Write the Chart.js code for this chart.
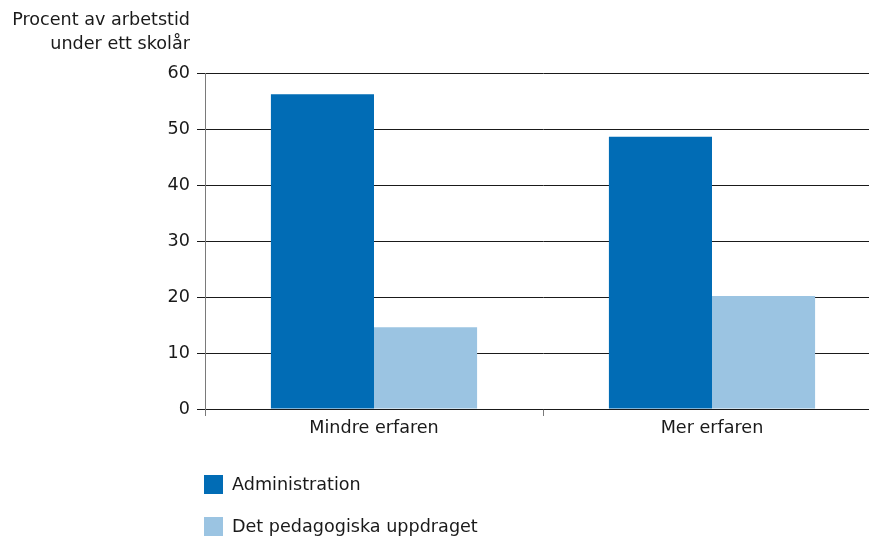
<!DOCTYPE html>
<html>
<head>
<meta charset="utf-8">
<script src="https://cdn.jsdelivr.net/npm/chart.js@4/dist/chart.umd.min.js"></script>
<style>
  html, body { margin: 0; padding: 0; overflow: hidden; background: #fff; }
  #wrap { position: relative; width: 884px; height: 541px; }
</style>
</head>
<body>
<div id="wrap"><canvas id="chart" width="884" height="541"></canvas></div>
<script>
const categories = ['Mindre erfaren', 'Mer erfaren'];
const administration = [56.2, 48.6];
const pedagogiska = [14.6, 20.2];
const seriesNames = ['Administration', 'Det pedagogiska uppdraget'];
const yTicks = [0, 10, 20, 30, 40, 50, 60];
const axisTitle = ['Procent av arbetstid', 'under ett skolår'];

const FONT = '"DejaVu Sans", sans-serif';

// title above the y axis + vertical legend under the chart
const extras = {
    id: 'extras',
    afterDraw(chart) {
        const ctx = chart.ctx;
        ctx.save();
        ctx.fillStyle = '#1a1a1a';
        ctx.font = '17.6px ' + FONT;
        ctx.textAlign = 'right';
        ctx.textBaseline = 'middle';
        axisTitle.forEach((t, i) => ctx.fillText(t, 190, 20 + i * 24));

        ctx.font = '17.6px ' + FONT;
        ctx.textAlign = 'left';
        chart.data.datasets.forEach((ds, i) => {
            const y = 475 + i * 42;
            ctx.fillStyle = ds.backgroundColor;
            ctx.fillRect(204, y, 19, 19);
            ctx.fillStyle = '#1a1a1a';
            ctx.fillText(ds.label, 232, y + 10);
        });
        ctx.restore();
    }
};

new Chart(document.getElementById('chart'), {
    type: 'bar',
    data: {
        labels: categories,
        datasets: [
            { label: seriesNames[0], data: administration, backgroundColor: '#016cb5' },
            { label: seriesNames[1], data: pedagogiska, backgroundColor: '#9bc4e2' }
        ]
    },
    options: {
        responsive: false,
        animation: false,
        devicePixelRatio: 1,
        categoryPercentage: 0.61,
        barPercentage: 1.0,
        layout: { padding: { left: 0, top: 73, right: 3, bottom: 100 } },
        plugins: {
            legend: { display: false },
            tooltip: { enabled: false }
        },
        scales: {
            x: {
                afterFit: s => { s.height = 32; },
                grid: { offset: true, drawOnChartArea: false, drawTicks: true, tickLength: 7, color: '#7a7a7a' },
                border: { display: false },
                ticks: { color: '#1a1a1a', padding: 2, font: { family: FONT, size: 17.6 } }
            },
            y: {
                min: 0,
                max: 60,
                afterFit: s => { s.width = 205; },
                afterBuildTicks: s => { s.ticks = yTicks.map(v => ({ value: v })); },
                grid: { color: '#1a1a1a', tickLength: 8 },
                border: { display: true, color: '#7a7a7a' },
                ticks: { color: '#1a1a1a', padding: 7, font: { family: FONT, size: 17.6 } }
            }
        }
    },
    plugins: [extras]
});
</script>
</body>
</html>
